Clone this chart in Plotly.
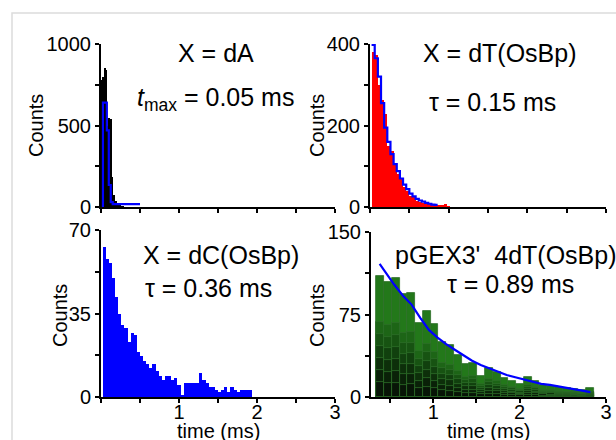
import plotly.graph_objects as go

W, H = 616, 440
FONT = "Liberation Sans, Arial, sans-serif"

# ---------------- data ----------------
# Panel 1: X = dA (black histogram + blue step outline)
dA_bin_start = [0.00, 0.02, 0.04, 0.06, 0.08, 0.10, 0.12, 0.14, 0.16, 0.18, 0.20, 0.22, 0.24, 0.26, 0.28]
dA_counts = [780, 800, 850, 840, 500, 545, 540, 185, 75, 35, 20, 12, 8, 5, 3]
dA_bin_width = 0.02
dA_step_t = [0.025, 0.025, 0.075, 0.10, 0.125, 0.15, 0.50]
dA_step_n = [0, 640, 470, 135, 30, 18, 18]

# Panel 2: X = dT(OsBp) (red histogram + blue step)
dT_bin_start = [0.02, 0.06, 0.10, 0.14, 0.18, 0.22, 0.26, 0.30, 0.34, 0.38, 0.42, 0.46, 0.50,
                0.54, 0.58, 0.62, 0.66, 0.70, 0.74, 0.78, 0.82, 0.86, 0.90, 0.94, 0.98]
dT_counts = [380, 372, 300, 262, 228, 150, 138, 108, 80, 72, 50, 40, 28,
             24, 15, 13, 10, 8, 7, 7, 4, 3, 3, 8, 2]
dT_bin_width = 0.04
dT_step_t = [0.02, 0.06, 0.10, 0.14, 0.18, 0.22, 0.26, 0.30, 0.34, 0.38, 0.42, 0.46, 0.50,
             0.54, 0.58, 0.62, 0.66, 0.70, 0.74, 0.78, 0.82, 0.86]
dT_step_n = [398, 365, 320, 255, 195, 160, 130, 105, 88, 70, 55, 44, 33,
             26, 20, 16, 13, 10, 8, 6, 5, 5]

# Panel 3: X = dC(OsBp) (blue histogram)
dC_bin_start = [round(0.02 + 0.04 * i, 2) for i in range(48)]
dC_counts = [63, 58, 56, 50, 42, 35, 30, 29, 23, 27, 26, 19, 17, 15, 14, 12,
             14, 11, 9, 7, 9, 9, 7, 8, 5, 1, 6, 6, 6, 6, 6, 10,
             7, 6, 4, 4, 3, 2, 3, 4, 2, 4, 3, 2, 3, 3, 3, 3]
dC_bin_width = 0.04

# Panel 4: pGEX3' 4dT(OsBp) (green histogram + blue fit)
pG_bin_start = [round(0.34 + 0.09 * i, 2) for i in range(28)]
pG_counts = [110, 105, 108, 94, 95, 67, 78, 66, 50, 47, 38, 30, 31, 19,
             26, 23, 17, 15, 12, 18, 15, 11, 10, 9, 8, 7, 6, 8]
pG_bin_width = 0.09
pG_fit_t = [0.38, 0.45, 0.55, 0.65, 0.75, 0.85, 0.95, 1.05, 1.15, 1.25, 1.35, 1.45, 1.55,
            1.65, 1.75, 1.85, 1.95, 2.05, 2.15, 2.25, 2.35, 2.45, 2.55, 2.65, 2.75, 2.82]
pG_fit_n = [121, 113, 102, 92, 84, 72, 61, 54, 48, 43, 38, 33, 29,
            26, 23, 20, 18, 16, 14, 12, 11, 9.5, 8, 6.5, 5.5, 4.5]

x_tickvals = [0, 0.5, 1, 1.5, 2, 2.5, 3]
x_ticktext_bottom = ["", "", "1", "", "2", "", "3"]
x_ticktext_top = [""] * 7

# ---------------- figure ----------------
fig = go.Figure()

def centers(starts, w):
    return [s + w / 2 for s in starts]

# panel 1
fig.add_trace(go.Bar(x=centers(dA_bin_start, dA_bin_width), y=dA_counts, width=dA_bin_width,
                     marker=dict(color="black", line=dict(width=0)), xaxis="x", yaxis="y"))
fig.add_trace(go.Scatter(x=dA_step_t, y=dA_step_n, mode="lines", line=dict(color="#0000ff", width=2.2, shape="hv"),
                         xaxis="x", yaxis="y"))
# panel 2
fig.add_trace(go.Bar(x=centers(dT_bin_start, dT_bin_width), y=dT_counts, width=dT_bin_width,
                     marker=dict(color="#ff0000", line=dict(width=0)), xaxis="x2", yaxis="y2"))
fig.add_trace(go.Scatter(x=dT_step_t, y=dT_step_n, mode="lines", line=dict(color="#0000ff", width=2.2, shape="hv"),
                         xaxis="x2", yaxis="y2"))
# panel 3
fig.add_trace(go.Bar(x=centers(dC_bin_start, dC_bin_width), y=dC_counts, width=dC_bin_width,
                     marker=dict(color="#0000ff", line=dict(width=0)), xaxis="x3", yaxis="y3"))
# panel 4 : gradient bars (top green, dark bottom)
fracs = [1.0, 0.62, 0.52, 0.42, 0.32, 0.22, 0.12]
cols = ["#23781a", "#1d6516", "#175312", "#11400e", "#0d2f0a", "#0a2108", "#081507"]
for f, c in zip(fracs, cols):
    fig.add_trace(go.Bar(x=centers(pG_bin_start, pG_bin_width), y=[v * f for v in pG_counts], width=pG_bin_width,
                         marker=dict(color=c, line=dict(color="#2d6e28", width=0.8)), xaxis="x4", yaxis="y4"))
fig.add_trace(go.Scatter(x=pG_fit_t, y=pG_fit_n, mode="lines", line=dict(color="#0000ff", width=2.2),
                         xaxis="x4", yaxis="y4"))

def xd(a, b):
    return [a / W, b / W]

def yd(top, bottom):
    return [1 - bottom / H, 1 - top / H]

tickfont = dict(family=FONT, size=20, color="black")

def xaxis(dom, rng, anchor, ticktext):
    return dict(domain=dom, range=rng, anchor=anchor, showline=True, linecolor="black", linewidth=2,
                ticks="outside", ticklen=4, tickwidth=1.5, tickcolor="black",
                tickvals=x_tickvals, ticktext=ticktext, tickfont=tickfont, automargin=False,
                ticklabelstandoff=-8,
                showgrid=False, zeroline=False, fixedrange=True)

def yaxis(dom, rng, anchor, vals, text):
    return dict(domain=dom, range=rng, anchor=anchor, showline=True, linecolor="black", linewidth=2,
                ticks="outside", ticklen=4, tickwidth=1.5, tickcolor="black",
                tickvals=vals, ticktext=text, tickfont=tickfont, automargin=False,
                showgrid=False, zeroline=False, fixedrange=True)

top_y = yd(44, 207)
bot_y3 = yd(230, 397)
bot_y4 = yd(232, 397)

fig.update_layout(
    template="none",
    width=W, height=H, margin=dict(l=0, r=0, t=0, b=0, pad=0), autosize=False,
    paper_bgcolor="white", plot_bgcolor="white", showlegend=False,
    barmode="overlay", bargap=0,
    font=dict(family=FONT, size=20, color="black"),
    xaxis=xaxis(xd(101, 335), [0, 3], "y", x_ticktext_top),
    yaxis=yaxis(top_y, [0, 1000], "x", [0, 250, 500, 750, 1000], ["0", "", "500", "", "1000"]),
    xaxis2=xaxis(xd(370, 606), [0, 3], "y2", x_ticktext_top),
    yaxis2=yaxis(top_y, [0, 400], "x2", [0, 100, 200, 300, 400], ["0", "", "200", "", "400"]),
    xaxis3=xaxis(xd(101, 335), [0, 3], "y3", x_ticktext_bottom),
    yaxis3=yaxis(bot_y3, [0, 70], "x3", [0, 17.5, 35, 52.5, 70], ["0", "", "35", "", "70"]),
    xaxis4=xaxis(xd(371, 606), [0.28, 3], "y4", x_ticktext_bottom),
    yaxis4=yaxis(bot_y4, [0, 150], "x4", [0, 37.5, 75, 112.5, 150], ["0", "", "75", "", "150"]),
)

def txt(x, y, s, size=25, angle=0):
    return dict(x=x / W, y=1 - y / H, xref="paper", yref="paper", text=s, showarrow=False,
                xanchor="center", yanchor="middle", textangle=angle,
                font=dict(family=FONT, size=size, color="black"))

anns = [
    txt(216, 53, "X = dA"),
    txt(215, 99, "<i>t</i><sub>max</sub> = 0.05 ms"),
    txt(500, 53, "X = dT(OsBp)"),
    txt(492, 102, "τ = 0.15 ms"),
    txt(221, 255, "X = dC(OsBp)"),
    txt(208, 288, "τ = 0.36 ms"),
    txt(506, 255, "pGEX3'  4dT(OsBp)"),
    txt(510, 284, "τ = 0.89 ms"),
    txt(36, 126, "Counts", 20, -90),
    txt(317, 126, "Counts", 20, -90),
    txt(60, 316, "Counts", 20, -90),
    txt(317, 316, "Counts", 20, -90),
    txt(218, 431, "time (ms)", 20),
    txt(489, 431, "time (ms)", 20),
]
fig.update_layout(annotations=anns)

fig.add_shape(type="rect", xref="paper", yref="paper", x0=12 / W, y0=-0.05, x1=1.05, y1=1 - 13 / H,
              line=dict(color="#dcdcdc", width=1.5), fillcolor="rgba(0,0,0,0)", layer="below")

fig.write_html("out.html", config={"displayModeBar": False},
               post_script="document.body.style.margin='0';document.body.style.overflow='hidden';")
